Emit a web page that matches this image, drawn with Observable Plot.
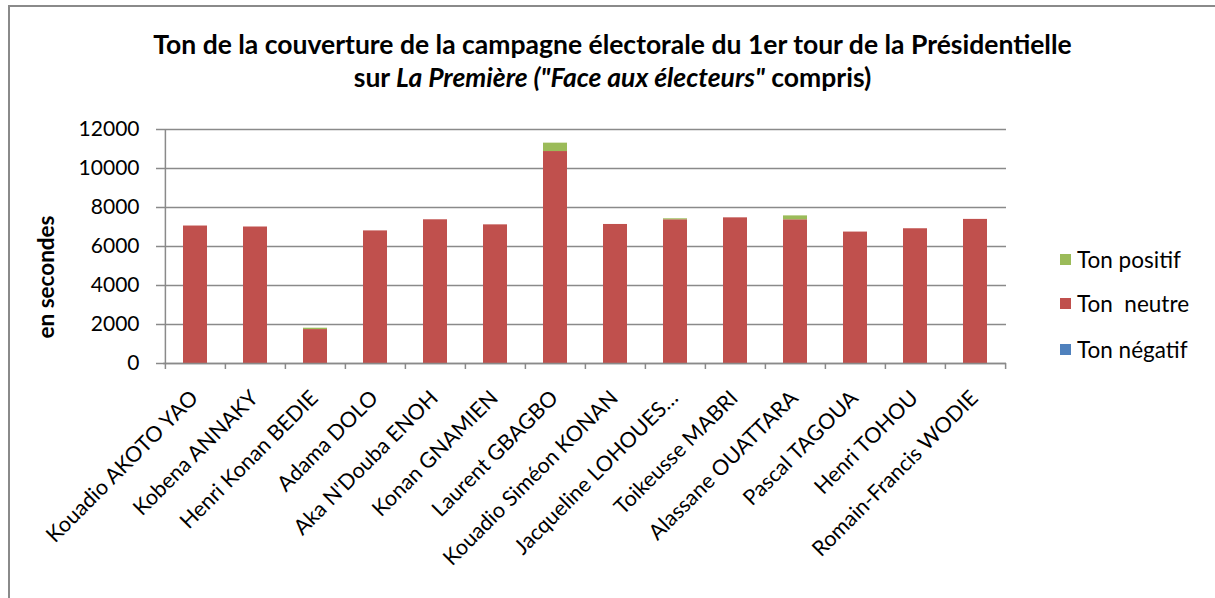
<!DOCTYPE html>
<html>
<head>
<meta charset="utf-8">
<script src="https://cdn.jsdelivr.net/npm/d3@7"></script>
<script src="https://cdn.jsdelivr.net/npm/@observablehq/plot@0.6"></script>
<style>
  html, body { margin: 0; padding: 0; background: #fff; }
  #wrap { position: relative; width: 1215px; height: 598px; overflow: hidden; font-family: Lato, "Open Sans", sans-serif; }
  #frame { position: absolute; left: 8px; top: 5px; width: 1300px; height: 700px; border-left: 2px solid #8a8a8a; border-top: 2px solid #8a8a8a; }
  #title { position: absolute; left: 0; top: 28px; width: 1225px; text-align: center; font-weight: bold; font-size: 26.5px; line-height: 33px; color: #000; }
  #chart { position: absolute; left: 0; top: 0; }
  #ytitle { position: absolute; left: 45px; top: 277px; transform: translate(-50%, -50%) rotate(-90deg); font-weight: bold; font-size: 22.5px; white-space: nowrap; }
  .leg { position: absolute; left: 1060px; font-size: 22.5px; white-space: pre; display: flex; align-items: center; height: 24px; }
  .leg span.sw { display: inline-block; width: 11px; height: 11px; margin-right: 6px; }
</style>
</head>
<body>
<div id="wrap">
  <div id="frame"></div>
  <div id="chart"></div>
  <div id="title">Ton de la couverture de la campagne électorale du 1er tour de la Présidentielle<br>sur <i>La Première ("Face aux électeurs"</i> compris)</div>
  <div id="ytitle">en secondes</div>
  <div id="legend"></div>
</div>
<script>
const candidates = [
  "Kouadio AKOTO YAO", "Kobena ANNAKY", "Henri Konan BEDIE", "Adama DOLO",
  "Aka N'Douba ENOH", "Konan GNAMIEN", "Laurent GBAGBO", "Kouadio Siméon KONAN",
  "Jacqueline LOHOUES…", "Toikeusse MABRI", "Alassane OUATTARA", "Pascal TAGOUA",
  "Henri TOHOU", "Romain-Francis WODIE"
];
const tonNegatif = [0, 0, 0, 0, 0, 0, 0, 0, 0, 0, 0, 0, 0, 0];
const tonNeutre  = [7050, 7000, 1740, 6800, 7370, 7110, 10870, 7130, 7370, 7470, 7370, 6740, 6910, 7390];
const tonPositif = [0, 0, 70, 0, 0, 0, 430, 0, 50, 0, 200, 0, 0, 0];
const seriesNames = ["Ton négatif", "Ton  neutre", "Ton positif"];
const seriesColors = ["#4f81bd", "#c0504d", "#9bbb59"];
const yTicks = [0, 2000, 4000, 6000, 8000, 10000, 12000];

const seriesValues = [tonNegatif, tonNeutre, tonPositif];
const data = [];
seriesNames.forEach((s, si) => candidates.forEach((c, ci) => data.push({candidat: c, ton: s, value: seriesValues[si][ci]})));

const W = 1010, H = 598, mL = 163, mR = 4, mT = 129, mB = 235;
const step = (W - mL - mR) / candidates.length;
const gray = "#8a8a8a";

const chart = Plot.plot({
  width: W, height: H,
  marginLeft: mL, marginRight: mR, marginTop: mT, marginBottom: mB,
  style: {fontFamily: "Lato, sans-serif", fontSize: "21px", color: "#000", background: "transparent"},
  x: {type: "band", domain: candidates, paddingInner: 0.6, paddingOuter: 0.3, axis: null},
  y: {domain: [0, 12000], axis: null},
  color: {domain: seriesNames, range: seriesColors},
  marks: [
    Plot.gridY(yTicks, {stroke: gray, strokeOpacity: 1, strokeWidth: 1.5}),
    Plot.axisY(yTicks, {label: null, tickSize: 7, tickPadding: 17, stroke: gray, strokeWidth: 1.5, fill: "#000", tickFormat: d => String(d), fontSize: 21}),
    Plot.barY(data, {x: "candidat", y: "value", fill: "ton", order: seriesNames}),
    Plot.ruleY([0], {stroke: gray, strokeWidth: 1.5}),
    Plot.ruleX([candidates[0]], {x: d => d, dx: -step / 2, y1: 0, y2: 12000, stroke: gray, strokeWidth: 1.5}),
    Plot.ruleX(candidates, {x: d => d, dx: -step / 2, y1: 0, y2: 0, insetBottom: -6, stroke: gray, strokeWidth: 1.5}),
    Plot.ruleX([candidates[candidates.length - 1]], {x: d => d, dx: step / 2, y1: 0, y2: 0, insetBottom: -6, stroke: gray, strokeWidth: 1.5}),
    Plot.text(candidates, {x: d => d, frameAnchor: "bottom", text: d => d, rotate: -45, textAnchor: "end", lineAnchor: "middle", dx: -1, dy: 31, fill: "#000", fontSize: 21.5})
  ]
});
document.getElementById("chart").appendChild(chart);

const legend = document.getElementById("legend");
const legendTops = {"Ton positif": 247, "Ton  neutre": 291, "Ton négatif": 337};
["Ton positif", "Ton  neutre", "Ton négatif"].forEach(name => {
  const d = document.createElement("div");
  d.className = "leg";
  d.style.top = legendTops[name] + "px";
  const sw = document.createElement("span");
  sw.className = "sw";
  sw.style.background = seriesColors[seriesNames.indexOf(name)];
  d.appendChild(sw);
  d.appendChild(document.createTextNode(name));
  legend.appendChild(d);
});
</script>
</body>
</html>
